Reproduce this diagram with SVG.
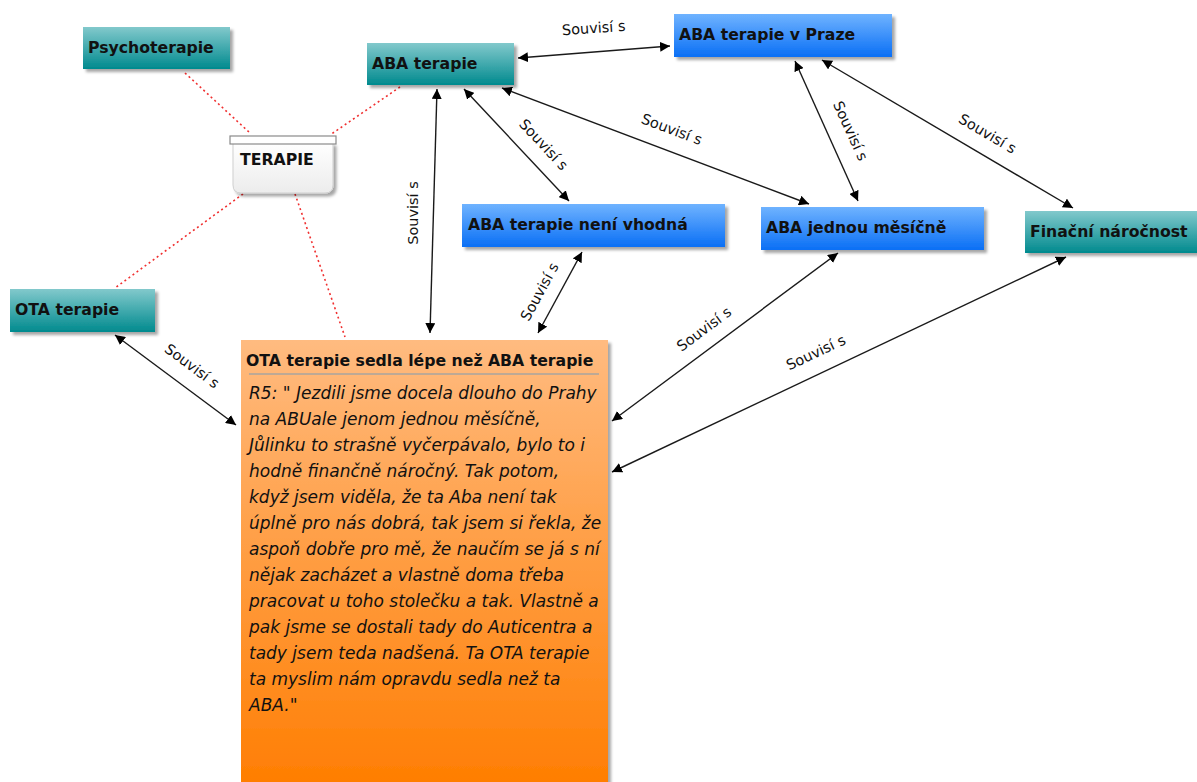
<svg xmlns="http://www.w3.org/2000/svg" width="1197" height="782" viewBox="0 0 1197 782">
  <defs>
    <linearGradient id="gTeal" x1="0" y1="0" x2="0" y2="1">
      <stop offset="0" stop-color="#82c9cc"/>
      <stop offset="1" stop-color="#008a8e"/>
    </linearGradient>
    <linearGradient id="gBlue" x1="0" y1="0" x2="0" y2="1">
      <stop offset="0" stop-color="#6fb3ff"/>
      <stop offset="1" stop-color="#0a6ff5"/>
    </linearGradient>
    <linearGradient id="gOrange" x1="0" y1="0" x2="0" y2="1">
      <stop offset="0" stop-color="#ffbb80"/>
      <stop offset="1" stop-color="#ff7d00"/>
    </linearGradient>
    <linearGradient id="gGrey" x1="0" y1="0" x2="0" y2="1">
      <stop offset="0" stop-color="#ffffff"/>
      <stop offset="1" stop-color="#ececec"/>
    </linearGradient>
    <filter id="shadow" x="-10%" y="-10%" width="130%" height="140%">
      <feDropShadow dx="3" dy="3" stdDeviation="1.5" flood-color="#000" flood-opacity="0.35"/>
    </filter>
    <marker id="arrow" viewBox="0 0 10 10" refX="10" refY="5" markerWidth="10" markerHeight="10" orient="auto-start-reverse" markerUnits="userSpaceOnUse">
      <path d="M0,0 L10,5 L0,10 Z" fill="#000"/>
    </marker>
  </defs>
  <style>
    .node-label { font-family: "DejaVu Sans", "Liberation Sans", sans-serif; font-weight: bold; font-size: 15.7px; fill: #111; }
    .link { stroke: #1a1a1a; stroke-width: 1.4; fill: none; marker-start: url(#arrow); marker-end: url(#arrow); }
    .dotted { stroke: #f03030; stroke-width: 1.6; stroke-dasharray: 2 3; fill: none; }
    .link-label { font-family: "DejaVu Sans", "Liberation Sans", sans-serif; font-size: 14.5px; fill: #111; text-anchor: middle; }
    .quote { font-family: "DejaVu Sans", "Liberation Sans", sans-serif; font-style: italic; font-size: 17px; fill: #111; }
  </style>

  <rect width="1197" height="782" fill="#ffffff"/>

  <!-- category links (dotted) -->
  <g id="category-links">
    <line class="dotted" x1="185" y1="73" x2="250" y2="133"/>
    <line class="dotted" x1="400" y1="87" x2="330" y2="135"/>
    <line class="dotted" x1="243" y1="194" x2="115" y2="288"/>
    <line class="dotted" x1="295" y1="194" x2="345" y2="337"/>
  </g>

  <!-- relation connectors -->
  <g id="connectors">
    <line class="link" x1="518" y1="58" x2="670" y2="46"/>
    <text class="link-label" transform="translate(594,33) rotate(-4)">Souvisí s</text>

    <line class="link" x1="437" y1="89" x2="430" y2="333"/>
    <text class="link-label" transform="translate(418,213) rotate(-90)">Souvisí s</text>

    <line class="link" x1="464" y1="89" x2="569" y2="201"/>
    <text class="link-label" transform="translate(540,148) rotate(47)">Souvisí s</text>

    <line class="link" x1="502" y1="88" x2="809" y2="204"/>
    <text class="link-label" transform="translate(670,134) rotate(20.7)">Souvisí s</text>

    <line class="link" x1="795" y1="61" x2="858" y2="201"/>
    <text class="link-label" transform="translate(846,133) rotate(65.5)">Souvisí s</text>

    <line class="link" x1="822" y1="60" x2="1073" y2="208"/>
    <text class="link-label" transform="translate(985,138) rotate(30.5)">Souvisí s</text>

    <line class="link" x1="582" y1="252" x2="538" y2="333"/>
    <text class="link-label" transform="translate(544,294) rotate(-61.5)">Souvisí s</text>

    <line class="link" x1="838" y1="253" x2="612" y2="421"/>
    <text class="link-label" transform="translate(707,333) rotate(-36.8)">Souvisí s</text>

    <line class="link" x1="1066" y1="257" x2="612" y2="472"/>
    <text class="link-label" transform="translate(818,357) rotate(-25.3)">Souvisí s</text>

    <line class="link" x1="115" y1="335" x2="236" y2="425"/>
    <text class="link-label" transform="translate(189,370) rotate(36.8)">Souvisí s</text>
  </g>

  <!-- concept nodes -->
  <g id="node-psychoterapie">
    <rect x="83" y="27" width="147" height="42" fill="url(#gTeal)" filter="url(#shadow)"/>
    <text class="node-label" x="88" y="53">Psychoterapie</text>
  </g>

  <g id="node-aba-terapie">
    <rect x="367" y="43" width="147" height="42" fill="url(#gTeal)" filter="url(#shadow)"/>
    <text class="node-label" x="372" y="69">ABA terapie</text>
  </g>

  <g id="node-aba-praha">
    <rect x="674" y="14" width="218" height="43" fill="url(#gBlue)" filter="url(#shadow)"/>
    <text class="node-label" x="679" y="40">ABA terapie v Praze</text>
  </g>

  <g id="node-terapie">
    <path d="M233,143 H333 V185 Q333,193 325,193 H241 Q233,193 233,185 Z" fill="url(#gGrey)" stroke="#cfcfcf" stroke-width="1" filter="url(#shadow)"/>
    <rect x="230" y="136" width="106" height="8" fill="#ffffff" stroke="#8a8a8a" stroke-width="1.2"/>
    <text class="node-label" x="240" y="165">TERAPIE</text>
  </g>

  <g id="node-aba-nevhodna">
    <rect x="462" y="204" width="263" height="43" fill="url(#gBlue)" filter="url(#shadow)"/>
    <text class="node-label" x="468" y="230">ABA terapie není vhodná</text>
  </g>

  <g id="node-aba-mesicne">
    <rect x="761" y="207" width="223" height="43" fill="url(#gBlue)" filter="url(#shadow)"/>
    <text class="node-label" x="766" y="233">ABA jednou měsíčně</text>
  </g>

  <g id="node-financni">
    <rect x="1025" y="211" width="172" height="42" fill="url(#gTeal)" filter="url(#shadow)"/>
    <text class="node-label" x="1030" y="237">Finační náročnost</text>
  </g>

  <g id="node-ota-terapie">
    <rect x="10" y="289" width="145" height="43" fill="url(#gTeal)" filter="url(#shadow)"/>
    <text class="node-label" x="15" y="315">OTA terapie</text>
  </g>

  <g id="node-ota-sedla">
    <rect x="241" y="340" width="367" height="450" fill="url(#gOrange)" filter="url(#shadow)"/>
    <text class="node-label" x="246" y="366">OTA terapie sedla lépe než ABA terapie</text>
    <line x1="249" y1="374" x2="599" y2="374" stroke="#7f9bb3" stroke-width="1.2"/>
    <text class="quote">
      <tspan x="249" y="399">R5: " Jezdili jsme docela dlouho do Prahy</tspan>
      <tspan x="249" y="425">na ABUale jenom jednou měsíčně,</tspan>
      <tspan x="249" y="451">Jůlinku to strašně vyčerpávalo, bylo to i</tspan>
      <tspan x="249" y="477">hodně finančně náročný. Tak potom,</tspan>
      <tspan x="249" y="503">když jsem viděla, že ta Aba není tak</tspan>
      <tspan x="249" y="529">úplně pro nás dobrá, tak jsem si řekla, že</tspan>
      <tspan x="249" y="555">aspoň dobře pro mě, že naučím se já s ní</tspan>
      <tspan x="249" y="581">nějak zacházet a vlastně doma třeba</tspan>
      <tspan x="249" y="607">pracovat u toho stolečku a tak. Vlastně a</tspan>
      <tspan x="249" y="633">pak jsme se dostali tady do Auticentra a</tspan>
      <tspan x="249" y="659">tady jsem teda nadšená. Ta OTA terapie</tspan>
      <tspan x="249" y="685">ta myslim nám opravdu sedla než ta</tspan>
      <tspan x="249" y="711">ABA."</tspan>
    </text>
  </g>
</svg>
